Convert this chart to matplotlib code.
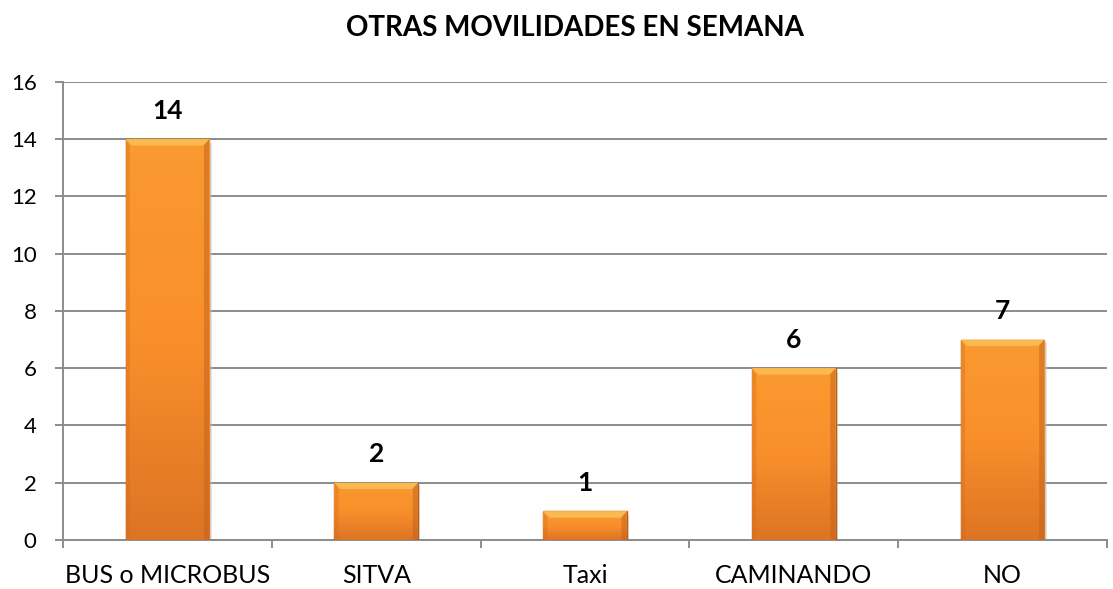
import numpy as np
import matplotlib.pyplot as plt
from matplotlib.colors import LinearSegmentedColormap

categorias = ['BUS o MICROBUS', 'SITVA', 'Taxi', 'CAMINANDO', 'NO']
valores = [14, 2, 1, 6, 7]
yticks = [0, 2, 4, 6, 8, 10, 12, 14, 16]

plt.rcParams['font.family'] = ['Lato', 'DejaVu Sans']

fig = plt.figure(figsize=(11.13, 5.89), dpi=100)
ax = fig.add_axes([0.0566, 0.0832, 0.938, 0.7776])

x = np.arange(len(categorias))
ax.set_xlim(-0.5, len(categorias) - 0.5)
ax.set_ylim(0, 16)

# cuadricula
ax.set_yticks(yticks)
ax.yaxis.grid(True, color='#8c8c8c', linewidth=1.4)
ax.set_axisbelow(True)

barras = ax.bar(x, valores, width=0.4, color='none', edgecolor='#b5601c',
                linewidth=1.0, zorder=3)

# relleno con degradado
cmap = LinearSegmentedColormap.from_list('nar', ['#dd7424', '#f98f2b', '#fa9a30'])
grad = np.linspace(0, 1, 256).reshape(-1, 1)
for b in barras:
    x0, y0 = b.get_x(), b.get_y()
    w, h = b.get_width(), b.get_height()
    # sombra
    ax.bar(x0 + w / 2 + 0.012, h, width=w, bottom=-0.12, color='#c8c8c8',
           alpha=0.5, zorder=2, linewidth=0)
    im = ax.imshow(grad, extent=[x0, x0 + w, y0, y0 + h], origin='lower',
                   cmap=cmap, aspect='auto', zorder=3)
    im.set_clip_path(b)
    # bisel superior
    ax.fill([x0, x0 + w, x0 + w - 0.03, x0 + 0.03],
            [h, h, h - 0.22, h - 0.22], color='#fcc35a', alpha=0.8,
            zorder=4, linewidth=0)
    # bordes laterales
    ax.fill([x0 + w, x0 + w, x0 + w - 0.025, x0 + w - 0.025],
            [0, h, h - 0.22, 0], color='#c0631d', alpha=0.5, zorder=4,
            linewidth=0)
    ax.fill([x0, x0, x0 + 0.02, x0 + 0.02],
            [0, h, h - 0.22, 0], color='#d06a1f', alpha=0.35, zorder=4,
            linewidth=0)
    ax.text(x0 + w / 2, h + 1.0, str(int(h)), ha='center', va='center',
            fontsize=19, fontweight='bold', zorder=5)

ax.set_xticks(np.arange(-0.5, len(categorias), 1.0))
ax.set_xticklabels([])
ax.set_xticks(x, minor=True)
ax.set_xticklabels(categorias, minor=True, fontsize=18)
ax.tick_params(axis='x', which='minor', length=0, pad=17)
ax.tick_params(axis='x', which='major', length=6, color='#8c8c8c', width=1.4)
ax.tick_params(axis='y', length=6, color='#8c8c8c', width=1.4,
               labelsize=16, pad=13)

for s in ['top', 'right']:
    ax.spines[s].set_visible(False)
for s in ['left', 'bottom']:
    ax.spines[s].set_color('#8c8c8c')
    ax.spines[s].set_linewidth(1.4)

fig.text(0.517, 0.952, 'OTRAS MOVILIDADES EN SEMANA', ha='center',
         va='center', fontsize=20, fontweight='bold')

plt.savefig('out.png', dpi=100)
